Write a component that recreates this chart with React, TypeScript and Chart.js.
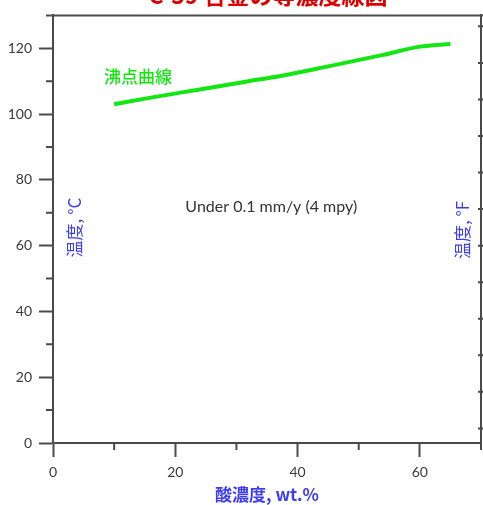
import { useEffect, useRef } from "react";
import { Chart, registerables } from "chart.js";

Chart.register(...registerables);

// Boiling-point curve: acid concentration (wt.%) vs temperature (°C)
const concentration = [10, 16, 24, 32, 37, 45, 54, 60, 65];
const boilingPoint = [103, 105, 107.5, 110, 111.5, 114.5, 118, 120.5, 121.3];

// Unlabelled minor ticks and the secondary °F scale ticks
const xMinorTicks = [10, 30, 50, 70];
const yMinorTicks = [10, 30, 50, 70, 90, 110, 130];
const fahrenheitTicks = [40, 60, 80, 100, 120, 140, 160, 180, 200, 220, 240, 260];

const TITLE = "C-59 合金の等濃度線図";
const X_TITLE = "酸濃度, wt.%";
const LEFT_TITLE = "温度, °C";
const RIGHT_TITLE = "温度, °F";
const CURVE_LABEL = "沸点曲線";
const RATE_LABEL = "Under 0.1 mm/y (4 mpy)";

const AXIS = "#4a4a4a";
const TICK_TEXT = "#3a3a3a";
const BLUE = "#3c3cf2";
const GREEN = "#14e614";
const CJK = '"Noto Sans CJK JP", "Noto Sans", sans-serif';
const LATIN = 'Lato, "Open Sans", sans-serif';

const cToF = (c: number) => 32 + c * 1.8;

const decorations = {
  id: "decorations",
  afterDraw(chart: any) {
    const { ctx, chartArea } = chart;
    const x = chart.scales.x;
    const y = chart.scales.y;
    const yF = chart.scales.yF;
    ctx.save();

    // top frame edge
    ctx.strokeStyle = AXIS;
    ctx.lineWidth = 2;
    ctx.beginPath();
    ctx.moveTo(chartArea.left, chartArea.top);
    ctx.lineTo(chartArea.right + 2, chartArea.top);
    ctx.stroke();

    // minor ticks
    ctx.beginPath();
    for (const v of xMinorTicks) {
      const px = x.getPixelForValue(v);
      ctx.moveTo(px, chartArea.bottom);
      ctx.lineTo(px, chartArea.bottom + 7);
    }
    for (const v of yMinorTicks) {
      const py = y.getPixelForValue(v);
      ctx.moveTo(chartArea.left - 7, py);
      ctx.lineTo(chartArea.left, py);
    }
    // °F ticks on the right edge
    for (const v of fahrenheitTicks) {
      const py = yF.getPixelForValue(v);
      ctx.moveTo(chartArea.right - 3, py);
      ctx.lineTo(chartArea.right + 3, py);
    }
    ctx.stroke();

    // labels inside the plot
    ctx.textAlign = "center";
    ctx.textBaseline = "middle";

    ctx.fillStyle = GREEN;
    ctx.font = `500 17px ${CJK}`;
    ctx.fillText(CURVE_LABEL, x.getPixelForValue(13.9), y.getPixelForValue(111.5));

    ctx.fillStyle = "#333333";
    ctx.font = `16px ${LATIN}`;
    ctx.fillText(RATE_LABEL, x.getPixelForValue(35.7), y.getPixelForValue(71.8));

    ctx.fillStyle = BLUE;
    ctx.font = `17px ${CJK}`;
    const sideLabel = (text: string, cx: number, cy: number) => {
      ctx.save();
      ctx.translate(cx, cy);
      ctx.rotate(-Math.PI / 2);
      ctx.fillText(text, 0, 0);
      ctx.restore();
    };
    sideLabel(LEFT_TITLE, x.getPixelForValue(3.6), y.getPixelForValue(65.5));
    sideLabel(RIGHT_TITLE, x.getPixelForValue(67), y.getPixelForValue(64.8));

    // chart title, partly above the top edge
    ctx.fillStyle = "#dd0000";
    ctx.font = `bold 23px ${CJK}`;
    ctx.textBaseline = "alphabetic";
    ctx.fillText(TITLE, 268, 4);

    ctx.restore();
  },
};

export default function App() {
  const canvasRef = useRef<HTMLCanvasElement | null>(null);

  useEffect(() => {
    if (!canvasRef.current) return;
    const chart = new Chart(canvasRef.current, {
      type: "line",
      data: {
        datasets: [
          {
            data: concentration.map((c, i) => ({ x: c, y: boilingPoint[i] })),
            borderColor: GREEN,
            borderWidth: 4,
            pointRadius: 0,
            tension: 0.4,
            cubicInterpolationMode: "monotone",
            fill: false,
          },
        ],
      },
      options: {
        responsive: false,
        animation: false,
        layout: { padding: { top: 14, right: 0, bottom: 0, left: 0 } },
        plugins: {
          legend: { display: false },
          tooltip: { enabled: false },
        },
        scales: {
          x: {
            type: "linear",
            position: "bottom",
            min: 0,
            max: 70,
            afterFit: (s: any) => {
              s.height = 62;
            },
            ticks: {
              stepSize: 20,
              includeBounds: false,
              color: TICK_TEXT,
              font: { family: LATIN, size: 14 },
              padding: 7,
              maxRotation: 0,
            },
            grid: {
              drawOnChartArea: false,
              tickLength: 14,
              tickColor: AXIS,
              tickWidth: 2,
            },
            border: { display: true, color: AXIS, width: 2 },
            title: {
              display: true,
              text: X_TITLE,
              color: BLUE,
              font: { family: CJK, size: 17, weight: "600" },
              padding: { top: 0, bottom: 0 },
            },
          },
          y: {
            type: "linear",
            position: "left",
            min: 0,
            max: 130,
            afterFit: (s: any) => {
              s.width = 53;
            },
            ticks: {
              stepSize: 20,
              includeBounds: false,
              color: TICK_TEXT,
              font: { family: LATIN, size: 14 },
              padding: 7,
            },
            grid: {
              drawOnChartArea: false,
              tickLength: 14,
              tickColor: AXIS,
              tickWidth: 2,
            },
            border: { display: true, color: AXIS, width: 2 },
          },
          yF: {
            type: "linear",
            position: "right",
            min: cToF(0),
            max: cToF(130),
            afterFit: (s: any) => {
              s.width = 2;
            },
            ticks: { display: false },
            grid: { display: false },
            border: { display: true, color: AXIS, width: 2 },
          },
        },
      },
      plugins: [decorations],
    });
    return () => chart.destroy();
  }, []);

  return (
    <div style={{ position: "fixed", left: 0, top: 0, width: 483, height: 505, background: "#fff" }}>
      <canvas ref={canvasRef} width={483} height={505} style={{ display: "block" }} />
    </div>
  );
}
